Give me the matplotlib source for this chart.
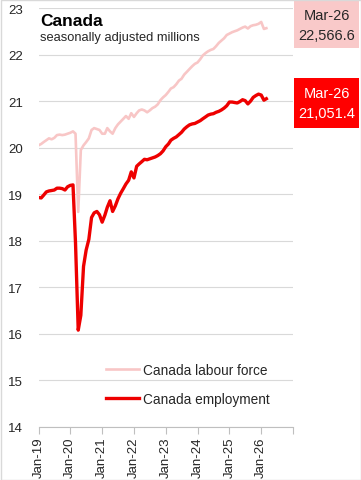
import matplotlib
matplotlib.use('Agg')
import matplotlib.pyplot as plt
import pandas as pd
from matplotlib.patches import Rectangle

plt.rcParams['font.family'] = ['Liberation Sans', 'DejaVu Sans']

months = pd.date_range('2019-01-01', '2026-03-01', freq='MS')

labour_force = [
    20.05, 20.08, 20.12, 20.16, 20.20, 20.18, 20.21, 20.27, 20.28, 20.27, 20.28, 20.30,
    20.32, 20.35, 20.30, 18.62, 19.95, 20.05, 20.12, 20.20, 20.38, 20.42, 20.40, 20.38,
    20.30, 20.30, 20.42, 20.35, 20.30, 20.42, 20.50, 20.56, 20.62, 20.68, 20.62, 20.74,
    20.66, 20.74, 20.80, 20.82, 20.80, 20.76, 20.80, 20.85, 20.88, 20.93, 21.02, 21.08,
    21.13, 21.20, 21.27, 21.30, 21.36, 21.44, 21.48, 21.57, 21.63, 21.69, 21.75, 21.80,
    21.83, 21.90, 21.98, 22.03, 22.07, 22.10, 22.12, 22.18, 22.25, 22.30, 22.35, 22.42,
    22.45, 22.48, 22.50, 22.52, 22.55, 22.58, 22.60, 22.56, 22.61, 22.63, 22.64, 22.66,
    22.70, 22.55, 22.5666,
]

employment = [
    18.93, 18.92, 18.98, 19.05, 19.07, 19.08, 19.09, 19.13, 19.13, 19.12, 19.09, 19.16,
    19.19, 19.20, 17.95, 16.08, 16.40, 17.45, 17.80, 18.03, 18.50, 18.60, 18.63, 18.56,
    18.40, 18.55, 18.72, 18.86, 18.63, 18.75, 18.90, 19.02, 19.12, 19.22, 19.30, 19.48,
    19.35, 19.60, 19.65, 19.70, 19.75, 19.74, 19.76, 19.78, 19.80, 19.83, 19.87, 19.93,
    20.02, 20.08, 20.16, 20.20, 20.23, 20.28, 20.33, 20.40, 20.45, 20.49, 20.51, 20.52,
    20.55, 20.58, 20.62, 20.66, 20.70, 20.72, 20.73, 20.76, 20.78, 20.81, 20.85, 20.90,
    20.98, 20.98, 20.97, 20.96, 20.99, 21.03, 21.01, 20.94, 21.00, 21.08, 21.12, 21.15,
    21.13, 21.02, 21.0514,
]

year_ticks = pd.date_range('2019-01-01', '2027-01-01', freq='YS')
tick_labels = ['Jan-19', 'Jan-20', 'Jan-21', 'Jan-22', 'Jan-23', 'Jan-24', 'Jan-25', 'Jan-26', '']
y_ticks = list(range(14, 24))

W, H = 361, 481
fig = plt.figure(figsize=(W / 100, H / 100), dpi=100)
ax = fig.add_axes([38.5 / W, 1 - 428 / H, (293 - 38.5) / W, (428 - 9) / H])

lf_color = '#f8c6c6'
emp_color = '#ee0000'
ax.plot(months, labour_force, color=lf_color, lw=1.9, label='Canada labour force',
        solid_joinstyle='round')
ax.plot(months, employment, color=emp_color, lw=2.4, label='Canada employment',
        solid_joinstyle='round')

ax.set_ylim(14, 23)
ax.set_yticks(y_ticks)
ax.set_xlim(year_ticks[0], year_ticks[-1])
ax.set_xticks(year_ticks)
ax.set_xticklabels(tick_labels)
ax.grid(axis='y', color='#d9d9d9', lw=0.8)
ax.set_axisbelow(True)
for s in ['top', 'right', 'left']:
    ax.spines[s].set_visible(False)
ax.spines['bottom'].set_color('#bfbfbf')
ax.spines['bottom'].set_linewidth(0.8)
ax.tick_params(axis='y', length=0, pad=11, labelsize=9.5, labelcolor='#262626')
ax.tick_params(axis='x', length=5, color='#bfbfbf', width=0.8, labelrotation=90,
               labelsize=9.5, labelcolor='#262626', pad=2)

ax.legend(loc='upper left', bbox_to_anchor=(106 / W, 1 - 364 / H),
          bbox_transform=fig.transFigure, frameon=False, fontsize=9.8,
          handlelength=2.4, handletextpad=0.3, labelspacing=1.1,
          borderpad=0, borderaxespad=0, labelcolor='#262626')

fig.text(40 / W, 1 - 26 / H, 'Canada', fontsize=12.5, fontweight='bold',
         va='baseline', color='#000000')
fig.text(40 / W, 1 - 41 / H, 'seasonally adjusted millions', fontsize=9.3,
         va='baseline', color='#262626')

# value boxes
fig.add_artist(Rectangle((294 / W, 1 - 49 / H), 65 / W, 48 / H,
                         transform=fig.transFigure, color='#f9c9c9', lw=0))
fig.add_artist(Rectangle((294 / W, 1 - 129 / H), 65 / W, 50 / H,
                         transform=fig.transFigure, color='#ff0000', lw=0))
cx = 326.5 / W
last_label = months[-1].strftime('%b-%y')
fig.text(cx, 1 - 16 / H, last_label, ha='center', va='center', fontsize=10.5, color='#262626')
fig.text(cx, 1 - 36 / H, f"{labour_force[-1] * 1000:,.1f}", ha='center', va='center',
         fontsize=10.5, color='#262626')
fig.text(cx, 1 - 94 / H, last_label, ha='center', va='center', fontsize=10.5, color='white')
fig.text(cx, 1 - 114 / H, f"{employment[-1] * 1000:,.1f}", ha='center', va='center',
         fontsize=10.5, color='white')

fig.add_artist(Rectangle((0.5 / W, 0.5 / H), (W - 1) / W, (H - 1) / H, fill=False,
                         edgecolor='#d9d9d9', lw=1, transform=fig.transFigure))

fig.savefig('out.png', dpi=100)
